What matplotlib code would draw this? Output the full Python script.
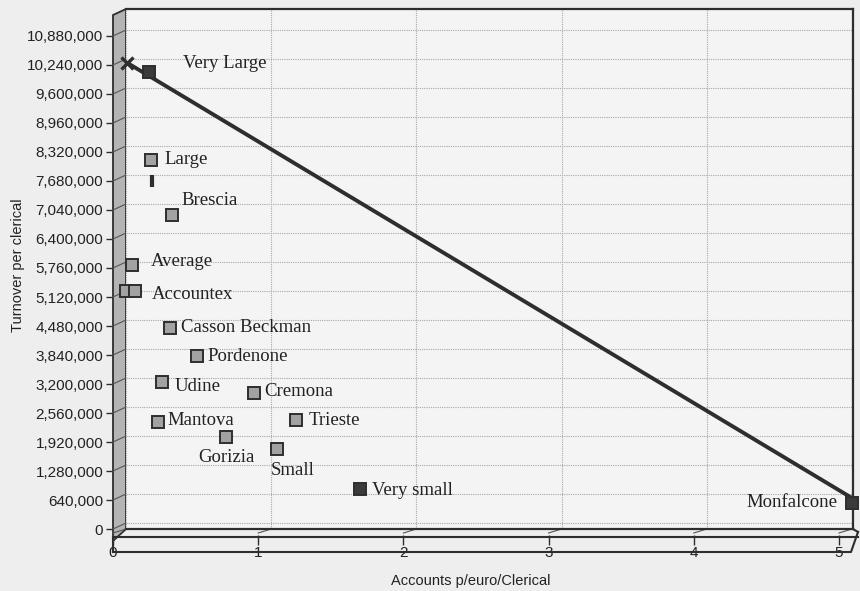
import matplotlib
matplotlib.use("Agg")
import matplotlib.pyplot as plt
from matplotlib.lines import Line2D
from matplotlib.patches import Polygon
from matplotlib.transforms import IdentityTransform

# ================= DATA =================
firms = [
    "Very Large", "Large", "Brescia", "Average", "Accountex (a)", "Accountex",
    "Casson Beckman", "Pordenone", "Udine", "Cremona", "Trieste", "Mantova",
    "Gorizia", "Small", "Very small", "Monfalcone",
]
accounts_per_clerical = [
    0.16, 0.17, 0.32, 0.04, 0.0, 0.06,
    0.30, 0.49, 0.25, 0.88, 1.17, 0.22,
    0.69, 1.04, 1.61, 5.0,
]
turnover_per_clerical = [
    9953000, 8011000, 6797000, 5694000, 5120000, 5120000,
    4303000, 3685000, 3112000, 2869000, 2273000, 2229000,
    1898000, 1633000, 750000, 441000,
]
dark_firms = ["Very Large", "Very small", "Monfalcone"]

# odd little mark under "Large"
stray_x = [0.18]
stray_y = [7548000]

# trend line
trend_x = [0.01, 5.0]
trend_y = [10152000, 552000]

y_ticks = [0, 640000, 1280000, 1920000, 2560000, 3200000, 3840000, 4480000,
           5120000, 5760000, 6400000, 7040000, 7680000, 8320000, 8960000,
           9600000, 10240000, 10880000]
x_ticks = [0, 1, 2, 3, 4, 5]
# =========================================

# label placement: (dx px, dy px, ha)
LABEL_POS = {
    "Very Large": (34, 8, "left"),
    "Large": (14, 0, "left"),
    "Brescia": (9, 15, "left"),
    "Average": (19, 3, "left"),
    "Accountex": (17, -3, "left"),
    "Casson Beckman": (11, 1, "left"),
    "Pordenone": (10, 0, "left"),
    "Udine": (12, -5, "left"),
    "Cremona": (10, 2, "left"),
    "Trieste": (13, 0, "left"),
    "Mantova": (10, 2, "left"),
    "Gorizia": (0, -20, "center"),
    "Small": (-6, -21, "left"),
    "Very small": (12, -1, "left"),
    "Monfalcone": (-15, 1, "right"),
}

W, H = 860, 591
BACK_L, BACK_R, BACK_T, BACK_B = 126, 853, 9, 529
SHIFT_X, SHIFT_Y = -13, 6
DARK = "#2e2e2e"
FIG_BG = "#eeeeee"
PLOT_BG = "#f4f4f4"


def fig_xy(x, y):
    return (x / W, 1 - y / H)


def main():
    fig = plt.figure(figsize=(W / 100, H / 100), dpi=100, facecolor=FIG_BG)

    # back plane (data lives here)
    ax = fig.add_axes([BACK_L / W, 1 - BACK_B / H,
                       (BACK_R - BACK_L) / W, (BACK_B - BACK_T) / H])
    # front axis (ticks and tick labels, shifted for the 3D look)
    axf = fig.add_axes([(BACK_L + SHIFT_X) / W, 1 - (BACK_B + SHIFT_Y) / H,
                        (BACK_R - BACK_L) / W, (BACK_B - BACK_T) / H])
    axf.patch.set_visible(False)
    axf.set_frame_on(False)
    axf.set_zorder(-1)

    for a in (ax, axf):
        a.set_xlim(0, 5.007)
        a.set_ylim(-132000, 11343000)
        a.set_xticks(x_ticks)
        a.set_yticks(y_ticks)

    ax.set_facecolor(PLOT_BG)
    ax.tick_params(left=False, bottom=False, labelleft=False, labelbottom=False)
    ax.grid(True, color="#a8a8a8", linestyle=(0, (1, 1)), linewidth=0.8)
    ax.set_axisbelow(True)
    for side in ["top", "right", "bottom"]:
        ax.spines[side].set_color(DARK)
        ax.spines[side].set_linewidth(1.6)
    ax.spines["left"].set_visible(False)

    axf.yaxis.set_major_formatter(plt.FuncFormatter(lambda v, p: f"{int(v):,}"))
    axf.tick_params(axis="y", direction="out", length=5, width=1, color=DARK,
                    pad=2, labelsize=11, labelcolor="#222222")
    axf.tick_params(axis="x", direction="out", length=7, width=1, color=DARK,
                    pad=1, labelsize=11, labelcolor="#222222")
    for lab in axf.get_yticklabels() + axf.get_xticklabels():
        lab.set_fontfamily("Liberation Sans")

    # left wall and floor (behind the back plane so points can overlap them)
    wall = Polygon([fig_xy(113, 15), fig_xy(126, 9), fig_xy(126, 529), fig_xy(113, 541)],
                   closed=True, transform=fig.transFigure, facecolor="#b4b4b4",
                   edgecolor=DARK, linewidth=1.3, zorder=-0.6)
    fig.add_artist(wall)
    for seg in [[(113, 537), (858, 537)],
                [(113, 552), (851, 552), (858, 532)],
                [(113, 537), (113, 552)],
                [(853, 529), (858, 532)]]:
        xs, ys = zip(*[fig_xy(*p) for p in seg])
        fig.add_artist(Line2D(xs, ys, transform=fig.transFigure, color=DARK,
                              linewidth=1.5, zorder=-0.5))

    # diagonal tick links on wall and floor
    for yv in y_ticks:
        b = ax.transData.transform((0, yv))
        f = axf.transData.transform((0, yv))
        fig.add_artist(Line2D([f[0], b[0]], [f[1], b[1]], transform=IdentityTransform(),
                              color="#555555", linewidth=0.8, zorder=-0.4))
    for xv in x_ticks:
        b = ax.transData.transform((xv, -132000))
        f = axf.transData.transform((xv, -132000))
        fig.add_artist(Line2D([f[0], b[0]], [f[1] + 2, b[1]], transform=IdentityTransform(),
                              color="#555555", linewidth=0.8, zorder=-0.4))

    # trend line
    ax.plot(trend_x, trend_y, color=DARK, linewidth=2.8, zorder=3,
            solid_capstyle="round", clip_on=False)
    ax.plot(trend_x[:1], trend_y[:1], marker="x", markersize=9, mew=2.4,
            color=DARK, zorder=4, clip_on=False)

    # stray mark
    ax.plot(stray_x, stray_y, marker="|", markersize=9, mew=3, color=DARK,
            linestyle="none", zorder=4)

    # points
    for name, xv, yv in zip(firms, accounts_per_clerical, turnover_per_clerical):
        fill = "#3b3b3b" if name in dark_firms else "#a2a2a2"
        ax.plot([xv], [yv], marker="s", markersize=8.5, markerfacecolor=fill,
                markeredgecolor=DARK, markeredgewidth=1.4, linestyle="none",
                zorder=4, clip_on=False)
        if name in LABEL_POS:
            dx, dy, ha = LABEL_POS[name]
            ax.annotate(name, (xv, yv), xytext=(dx, dy), textcoords="offset pixels",
                        ha=ha, va="center", fontsize=13.5, color="#222222",
                        fontfamily="Liberation Serif", zorder=5, annotation_clip=False)

    fig.text(*fig_xy(18, 265), "Turnover per clerical", rotation=90, ha="center",
             va="center", fontsize=10.5, color="#222222", fontfamily="Liberation Sans")
    fig.text(*fig_xy(471, 581), "Accounts p/euro/Clerical", ha="center",
             va="center", fontsize=10.5, color="#222222", fontfamily="Liberation Sans")

    fig.savefig("out.png", dpi=100, facecolor=FIG_BG)
    plt.close(fig)


if __name__ == "__main__":
    main()
